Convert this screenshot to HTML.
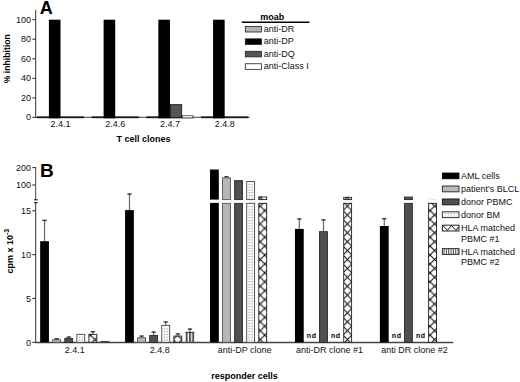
<!DOCTYPE html>
<html><head><meta charset="utf-8"><style>
html,body{margin:0;padding:0;background:#fff;}
body{width:520px;height:382px;overflow:hidden;}
svg{display:block;}
.t{font-family:"Liberation Sans", sans-serif;font-size:9px;fill:#111;}
.b{font-family:"Liberation Sans", sans-serif;font-size:9px;font-weight:bold;fill:#000;}
.big{font-family:"Liberation Sans", sans-serif;font-size:18px;font-weight:bold;fill:#000;}
.nd{font-family:"Liberation Sans", sans-serif;font-size:7px;font-weight:bold;fill:#000;letter-spacing:0.6px;}
</style></head><body>
<svg width="520" height="382" viewBox="0 0 520 382">
<defs>
<pattern id="pBM" patternUnits="userSpaceOnUse" x="0.5" y="0.3" width="2.9" height="2.75"><rect x="0.6" y="0.8" width="1.3" height="1.1" fill="#9a9a9a"/></pattern>
<pattern id="pX" patternUnits="userSpaceOnUse" x="-5.355" y="-83.150" width="8.71" height="8.9"><path d="M-1,-1.022L9.71,9.922M9.71,-1.022L-1,9.922" stroke="#111" stroke-width="1.05" fill="none"/></pattern>
<pattern id="pV" patternUnits="userSpaceOnUse" x="0" y="0" width="3.1" height="10"><rect x="0.2" y="0" width="1.3" height="10" fill="#777"/></pattern>
<pattern id="bm1" patternUnits="userSpaceOnUse" x="78.69" y="0.35" width="2.95" height="2.78"><rect x="0" y="0" width="1.3" height="1.1" fill="#8a8a8a"/></pattern>
<pattern id="v2" patternUnits="userSpaceOnUse" x="100.55" y="0" width="3.4" height="10"><rect x="0" y="0" width="2.2" height="10" fill="#555"/></pattern>
<pattern id="bm3" patternUnits="userSpaceOnUse" x="163.62" y="0.35" width="2.95" height="2.78"><rect x="0" y="0" width="1.3" height="1.1" fill="#8a8a8a"/></pattern>
<pattern id="v4" patternUnits="userSpaceOnUse" x="185.48" y="0" width="3.4" height="10"><rect x="0" y="0" width="2.2" height="10" fill="#555"/></pattern>
<pattern id="bm5" patternUnits="userSpaceOnUse" x="248.55" y="0.35" width="2.95" height="2.78"><rect x="0" y="0" width="1.3" height="1.1" fill="#8a8a8a"/></pattern>
<pattern id="bm6" patternUnits="userSpaceOnUse" x="248.55" y="0.35" width="2.95" height="2.78"><rect x="0" y="0" width="1.3" height="1.1" fill="#8a8a8a"/></pattern></defs>
<rect width="520" height="382" fill="#fff"/>
<line x1="35.6" y1="9.8" x2="35.6" y2="117.9" stroke="#555" stroke-width="1.2"/>
<line x1="35" y1="117.4" x2="249.6" y2="117.4" stroke="#666" stroke-width="1.1"/>
<line x1="32.4" y1="117.40" x2="35.5" y2="117.40" stroke="#333" stroke-width="1.1"/>
<text x="31" y="120.30" text-anchor="end" class="t">0</text>
<line x1="32.4" y1="97.86" x2="35.5" y2="97.86" stroke="#333" stroke-width="1.1"/>
<text x="31" y="100.76" text-anchor="end" class="t">20</text>
<line x1="32.4" y1="78.32" x2="35.5" y2="78.32" stroke="#333" stroke-width="1.1"/>
<text x="31" y="81.22" text-anchor="end" class="t">40</text>
<line x1="32.4" y1="58.78" x2="35.5" y2="58.78" stroke="#333" stroke-width="1.1"/>
<text x="31" y="61.68" text-anchor="end" class="t">60</text>
<line x1="32.4" y1="39.24" x2="35.5" y2="39.24" stroke="#333" stroke-width="1.1"/>
<text x="31" y="42.14" text-anchor="end" class="t">80</text>
<line x1="32.4" y1="19.70" x2="35.5" y2="19.70" stroke="#333" stroke-width="1.1"/>
<text x="31" y="22.60" text-anchor="end" class="t">100</text>
<rect x="36.90" y="116.4" width="47.2" height="1.8" fill="#1a1a1a"/>
<rect x="48.90" y="19.70" width="11.6" height="98.60" fill="#000"/>
<text x="60.50" y="127.4" text-anchor="middle" class="t">2.4.1</text>
<rect x="91.62" y="116.4" width="47.2" height="1.8" fill="#1a1a1a"/>
<rect x="103.62" y="19.70" width="11.6" height="98.60" fill="#000"/>
<text x="115.22" y="127.4" text-anchor="middle" class="t">2.4.6</text>
<rect x="146.34" y="116.4" width="47.2" height="1.8" fill="#1a1a1a"/>
<rect x="158.34" y="19.70" width="11.6" height="98.60" fill="#000"/>
<rect x="170.39" y="104.65" width="11.30" height="13.10" fill="#555" stroke="#1a1a1a" stroke-width="0.9"/>
<rect x="182.54" y="115.70" width="10.40" height="2.20" fill="#fff" stroke="#444" stroke-width="0.8"/>
<text x="169.94" y="127.4" text-anchor="middle" class="t">2.4.7</text>
<rect x="201.06" y="116.4" width="47.2" height="1.8" fill="#1a1a1a"/>
<rect x="213.06" y="19.70" width="11.6" height="98.60" fill="#000"/>
<text x="224.66" y="127.4" text-anchor="middle" class="t">2.4.8</text>
<text x="143.5" y="141.5" text-anchor="middle" class="b">T cell clones</text>
<text transform="translate(10.2,58.7) rotate(-90)" text-anchor="middle" class="b" style="font-size:8.7px">% inhibition</text>
<text x="39.8" y="13.9" class="big">A</text>
<text x="272.3" y="19.6" text-anchor="middle" class="b">moab</text>
<line x1="241.8" y1="22.2" x2="309.5" y2="22.2" stroke="#000" stroke-width="1.4"/>
<rect x="245.3" y="26.40" width="16.2" height="5.6" fill="#b4b4b4" stroke="#222" stroke-width="0.8"/>
<text x="263.8" y="32.00" class="t">anti-DR</text>
<rect x="245.3" y="38.85" width="16.2" height="5.6" fill="#000" stroke="#222" stroke-width="0.8"/>
<text x="263.8" y="44.45" class="t">anti-DP</text>
<rect x="245.3" y="51.30" width="16.2" height="5.6" fill="#555" stroke="#222" stroke-width="0.8"/>
<text x="263.8" y="56.90" class="t">anti-DQ</text>
<rect x="245.3" y="63.75" width="16.2" height="5.6" fill="#fff" stroke="#222" stroke-width="0.8"/>
<text x="263.8" y="69.35" class="t">anti-Class I</text>
<line x1="35.6" y1="167" x2="35.6" y2="200.3" stroke="#666" stroke-width="1.2"/>
<line x1="35.6" y1="202" x2="35.6" y2="342.8" stroke="#555" stroke-width="1.2"/>
<line x1="34" y1="199.8" x2="37.8" y2="199.8" stroke="#111" stroke-width="1"/>
<line x1="34" y1="202.6" x2="37.8" y2="202.6" stroke="#111" stroke-width="1"/>
<line x1="35" y1="342.6" x2="453.3" y2="342.6" stroke="#444" stroke-width="1.5"/>
<line x1="32.3" y1="167.60" x2="35.5" y2="167.60" stroke="#333" stroke-width="1.1"/>
<text x="31" y="170.80" text-anchor="end" class="t">200</text>
<line x1="32.3" y1="185.00" x2="35.5" y2="185.00" stroke="#333" stroke-width="1.1"/>
<text x="31" y="188.20" text-anchor="end" class="t">100</text>
<line x1="32.3" y1="210.75" x2="35.5" y2="210.75" stroke="#333" stroke-width="1.1"/>
<text x="31" y="213.95" text-anchor="end" class="t">15</text>
<line x1="32.3" y1="254.60" x2="35.5" y2="254.60" stroke="#333" stroke-width="1.1"/>
<text x="31" y="257.80" text-anchor="end" class="t">10</text>
<line x1="32.3" y1="298.45" x2="35.5" y2="298.45" stroke="#333" stroke-width="1.1"/>
<text x="31" y="301.65" text-anchor="end" class="t">5</text>
<line x1="32.3" y1="342.30" x2="35.5" y2="342.30" stroke="#333" stroke-width="1.1"/>
<text x="31" y="345.50" text-anchor="end" class="t">0</text>
<text x="39.9" y="177" class="big" style="font-size:19px">B</text>
<rect x="40.15" y="241.20" width="8.80" height="101.10" fill="#000"/>
<line x1="44.55" y1="219.90" x2="44.55" y2="241.20" stroke="#666" stroke-width="1.2"/><line x1="42.45" y1="220.40" x2="46.65" y2="220.40" stroke="#333" stroke-width="1.4"/>
<rect x="52.68" y="339.75" width="7.90" height="2.55" fill="#b6b6b6" stroke="#555" stroke-width="0.9"/>
<line x1="56.63" y1="338.20" x2="56.63" y2="339.30" stroke="#666" stroke-width="1.2"/><line x1="54.53" y1="338.70" x2="58.73" y2="338.70" stroke="#333" stroke-width="1.4"/>
<rect x="64.76" y="338.35" width="7.90" height="3.95" fill="#4f4f4f" stroke="#2a2a2a" stroke-width="0.9"/>
<line x1="68.71" y1="336.60" x2="68.71" y2="337.90" stroke="#666" stroke-width="1.2"/><line x1="66.61" y1="337.10" x2="70.81" y2="337.10" stroke="#333" stroke-width="1.4"/>
<rect x="76.84" y="334.35" width="7.90" height="7.95" fill="#fff" stroke="#444" stroke-width="0.9"/><rect x="78.19" y="335.70" width="5.60" height="5.80" fill="url(#bm1)"/>
<rect x="88.92" y="334.35" width="7.90" height="7.95" fill="#fff" stroke="#222" stroke-width="0.9"/><rect x="88.97" y="333.90" width="7.80" height="8.40" fill="url(#pX)"/>
<line x1="92.87" y1="331.20" x2="92.87" y2="333.90" stroke="#666" stroke-width="1.2"/><line x1="90.77" y1="331.70" x2="94.97" y2="331.70" stroke="#333" stroke-width="1.4"/>
<rect x="100.55" y="341.20" width="8.80" height="1.10" fill="url(#v2)"/><rect x="100.55" y="341.20" width="8.80" height="1" fill="#333"/>
<text x="74.75" y="352.8" text-anchor="middle" class="t">2.4.1</text>
<rect x="125.08" y="210.10" width="8.80" height="132.20" fill="#000"/>
<line x1="129.48" y1="193.60" x2="129.48" y2="210.10" stroke="#666" stroke-width="1.2"/><line x1="127.38" y1="194.10" x2="131.58" y2="194.10" stroke="#333" stroke-width="1.4"/>
<rect x="137.61" y="337.75" width="7.90" height="4.55" fill="#b6b6b6" stroke="#555" stroke-width="0.9"/>
<line x1="141.56" y1="335.60" x2="141.56" y2="337.30" stroke="#666" stroke-width="1.2"/><line x1="139.46" y1="336.10" x2="143.66" y2="336.10" stroke="#333" stroke-width="1.4"/>
<rect x="149.69" y="335.55" width="7.90" height="6.75" fill="#4f4f4f" stroke="#2a2a2a" stroke-width="0.9"/>
<line x1="153.64" y1="331.60" x2="153.64" y2="335.10" stroke="#666" stroke-width="1.2"/><line x1="151.54" y1="332.10" x2="155.74" y2="332.10" stroke="#333" stroke-width="1.4"/>
<rect x="161.77" y="325.35" width="7.90" height="16.95" fill="#fff" stroke="#444" stroke-width="0.9"/><rect x="163.12" y="326.70" width="5.60" height="14.80" fill="url(#bm3)"/>
<line x1="165.72" y1="321.50" x2="165.72" y2="324.90" stroke="#666" stroke-width="1.2"/><line x1="163.62" y1="322.00" x2="167.82" y2="322.00" stroke="#333" stroke-width="1.4"/>
<rect x="173.85" y="336.05" width="7.90" height="6.25" fill="#fff" stroke="#222" stroke-width="0.9"/><rect x="173.90" y="335.60" width="7.80" height="6.70" fill="url(#pX)"/>
<line x1="177.80" y1="333.40" x2="177.80" y2="335.60" stroke="#666" stroke-width="1.2"/><line x1="175.70" y1="333.90" x2="179.90" y2="333.90" stroke="#333" stroke-width="1.4"/>
<rect x="185.48" y="331.90" width="8.80" height="10.40" fill="url(#v4)"/><rect x="185.48" y="331.90" width="8.80" height="1" fill="#333"/>
<line x1="189.88" y1="328.60" x2="189.88" y2="331.90" stroke="#666" stroke-width="1.2"/><line x1="187.78" y1="329.10" x2="191.98" y2="329.10" stroke="#333" stroke-width="1.4"/>
<text x="159.68" y="352.8" text-anchor="middle" class="t">2.4.8</text>
<rect x="210.01" y="169.50" width="8.80" height="30.10" fill="#000"/>
<rect x="210.01" y="202.90" width="8.80" height="139.40" fill="#000"/>
<rect x="222.54" y="177.85" width="7.90" height="21.75" fill="#b6b6b6" stroke="#555" stroke-width="0.9"/>
<rect x="222.54" y="203.35" width="7.90" height="138.95" fill="#b6b6b6" stroke="#555" stroke-width="0.9"/>
<line x1="226.49" y1="176.30" x2="226.49" y2="177.40" stroke="#666" stroke-width="1.2"/><line x1="224.39" y1="176.80" x2="228.59" y2="176.80" stroke="#333" stroke-width="1.4"/>
<rect x="234.62" y="180.65" width="7.90" height="18.95" fill="#4f4f4f" stroke="#2a2a2a" stroke-width="0.9"/>
<rect x="234.62" y="203.35" width="7.90" height="138.95" fill="#4f4f4f" stroke="#2a2a2a" stroke-width="0.9"/>
<rect x="246.70" y="181.55" width="7.90" height="18.05" fill="#fff" stroke="#444" stroke-width="0.9"/><rect x="248.05" y="182.90" width="5.60" height="15.90" fill="url(#bm5)"/>
<rect x="246.70" y="203.35" width="7.90" height="138.95" fill="#fff" stroke="#444" stroke-width="0.9"/><rect x="248.05" y="204.70" width="5.60" height="136.80" fill="url(#bm6)"/>
<rect x="258.78" y="196.95" width="7.90" height="2.65" fill="#fff" stroke="#222" stroke-width="0.9"/><rect x="258.83" y="196.50" width="7.80" height="3.10" fill="url(#pX)"/>
<rect x="258.78" y="203.35" width="7.90" height="138.95" fill="#fff" stroke="#222" stroke-width="0.9"/><rect x="258.83" y="202.90" width="7.80" height="139.40" fill="url(#pX)"/>
<text x="244.61" y="352.8" text-anchor="middle" class="t">anti-DP clone</text>
<rect x="294.94" y="228.90" width="8.80" height="113.40" fill="#000"/>
<line x1="299.34" y1="218.50" x2="299.34" y2="228.90" stroke="#666" stroke-width="1.2"/><line x1="297.24" y1="219.00" x2="301.44" y2="219.00" stroke="#333" stroke-width="1.4"/>
<text x="311.72" y="337.9" text-anchor="middle" class="nd">nd</text>
<rect x="319.55" y="231.65" width="7.90" height="110.65" fill="#4f4f4f" stroke="#2a2a2a" stroke-width="0.9"/>
<line x1="323.50" y1="219.40" x2="323.50" y2="231.20" stroke="#666" stroke-width="1.2"/><line x1="321.40" y1="219.90" x2="325.60" y2="219.90" stroke="#333" stroke-width="1.4"/>
<text x="335.88" y="337.9" text-anchor="middle" class="nd">nd</text>
<rect x="343.71" y="197.35" width="7.90" height="2.25" fill="#fff" stroke="#222" stroke-width="0.9"/><rect x="343.76" y="196.90" width="7.80" height="2.70" fill="url(#pX)"/>
<rect x="343.71" y="203.35" width="7.90" height="138.95" fill="#fff" stroke="#222" stroke-width="0.9"/><rect x="343.76" y="202.90" width="7.80" height="139.40" fill="url(#pX)"/>
<text x="329.54" y="352.8" text-anchor="middle" class="t">anti-DR clone #1</text>
<rect x="379.87" y="226.00" width="8.80" height="116.30" fill="#000"/>
<line x1="384.27" y1="218.20" x2="384.27" y2="226.00" stroke="#666" stroke-width="1.2"/><line x1="382.17" y1="218.70" x2="386.37" y2="218.70" stroke="#333" stroke-width="1.4"/>
<text x="396.65" y="337.9" text-anchor="middle" class="nd">nd</text>
<rect x="404.48" y="197.05" width="7.90" height="2.55" fill="#4f4f4f" stroke="#2a2a2a" stroke-width="0.9"/>
<rect x="404.48" y="203.35" width="7.90" height="138.95" fill="#4f4f4f" stroke="#2a2a2a" stroke-width="0.9"/>
<text x="420.81" y="337.9" text-anchor="middle" class="nd">nd</text>
<rect x="428.64" y="199.75" width="7.90" height="-0.15" fill="#fff" stroke="#222" stroke-width="0.9"/><rect x="428.69" y="199.30" width="7.80" height="0.30" fill="url(#pX)"/>
<rect x="428.64" y="203.35" width="7.90" height="138.95" fill="#fff" stroke="#222" stroke-width="0.9"/><rect x="428.69" y="202.90" width="7.80" height="139.40" fill="url(#pX)"/>
<text x="414.47" y="352.8" text-anchor="middle" class="t">anti DR clone #2</text>
<text x="244.4" y="379" text-anchor="middle" class="b">responder cells</text>
<g transform="translate(13.2,251.2) rotate(-90)"><text x="0" y="0" text-anchor="middle" class="b">cpm x 10<tspan dy="-4" font-size="7">-3</tspan></text></g>
<rect x="442.4" y="173.0" width="16.6" height="5.8" fill="#000" stroke="#000" stroke-width="0.8"/>
<text x="461" y="179.10" class="t">AML cells</text>
<rect x="442.4" y="186.0" width="16.6" height="5.8" fill="#bcbcbc" stroke="#333" stroke-width="1"/>
<text x="461" y="192.10" class="t">patient&#39;s BLCL</text>
<rect x="442.4" y="199.0" width="16.6" height="5.8" fill="#505050" stroke="#1a1a1a" stroke-width="1"/>
<text x="461" y="205.10" class="t">donor PBMC</text>
<rect x="442.4" y="211.8" width="16.6" height="5.8" fill="#fff" stroke="#333" stroke-width="1"/><rect x="443.7" y="213.0" width="14.000000000000002" height="3.5999999999999996" fill="url(#pBM)"/>
<text x="461" y="217.90" class="t">donor BM</text>
<rect x="442.4" y="225.2" width="16.6" height="5.8" fill="#fff" stroke="#222" stroke-width="1"/>
<path d="M443.0,225.6L447.4,230.4L451.4,225.6L456.09999999999997,230.4L458.59999999999997,226.7" stroke="#111" stroke-width="1" fill="none"/>
<text x="461" y="231.30" class="t">HLA matched</text>
<text x="461" y="241.80" class="t">PBMC #1</text>
<rect x="442.4" y="248.6" width="16.6" height="5.8" fill="#fff" stroke="#333" stroke-width="1"/>
<line x1="444.00" y1="248.6" x2="444.00" y2="254.4" stroke="#333" stroke-width="0.9"/>
<line x1="446.35" y1="248.6" x2="446.35" y2="254.4" stroke="#333" stroke-width="0.9"/>
<line x1="448.70" y1="248.6" x2="448.70" y2="254.4" stroke="#333" stroke-width="0.9"/>
<line x1="451.05" y1="248.6" x2="451.05" y2="254.4" stroke="#333" stroke-width="0.9"/>
<line x1="453.40" y1="248.6" x2="453.40" y2="254.4" stroke="#333" stroke-width="0.9"/>
<line x1="455.75" y1="248.6" x2="455.75" y2="254.4" stroke="#333" stroke-width="0.9"/>
<line x1="458.10" y1="248.6" x2="458.10" y2="254.4" stroke="#333" stroke-width="0.9"/>
<text x="461" y="254.70" class="t">HLA matched</text>
<text x="461" y="265.20" class="t">PBMC #2</text>
</svg>
</body></html>
